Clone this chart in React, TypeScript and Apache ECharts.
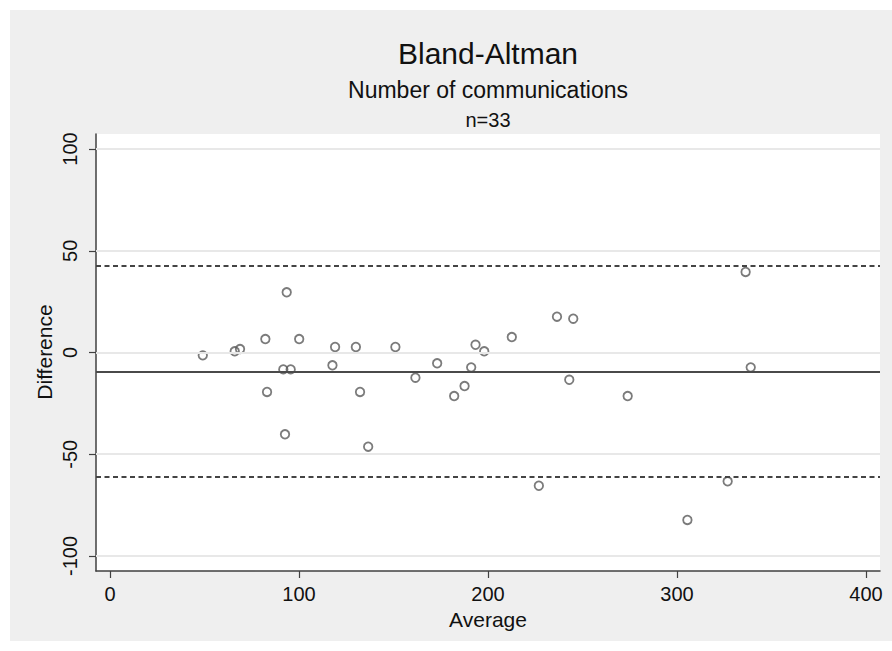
import React, { useEffect, useRef } from "react";
import * as echarts from "echarts";

// Bland-Altman data: average of the two methods vs their difference
const averages = [
  49.1, 66.0, 68.8, 82.2, 83.1, 91.7, 92.6, 93.5, 95.6, 100.1, 117.7, 119.1,
  130.1, 132.3, 136.6, 151.0, 161.6, 173.1, 182.1, 187.6, 191.1, 193.4, 198.0,
  212.6, 226.9, 236.5, 243.0, 245.1, 273.9, 305.5, 326.8, 336.3, 339.0,
];
const differences = [
  -1.4, 0.6, 1.7, 6.6, -19.4, -8.3, -40.2, 29.6, -8.3, 6.6, -6.3, 2.7,
  2.7, -19.4, -46.3, 2.7, -12.4, -5.3, -21.4, -16.5, -7.3, 3.8, 0.6,
  7.6, -65.5, 17.6, -13.4, 16.6, -21.4, -82.3, -63.3, 39.6, -7.3,
];
const meanDifference = -9.4;
const upperLimit = 42.7;
const lowerLimit = -61.3;
const xTicks = [0, 100, 200, 300, 400];
const yTicks = [-100, -50, 0, 50, 100];

const titleText = "Bland-Altman";
const subtitleText = "Number of communications";
const noteText = "n=33";
const xTitle = "Average";
const yTitle = "Difference";

export default function App() {
  const ref = useRef<HTMLDivElement>(null);

  useEffect(() => {
    if (!ref.current) return;
    const chart = echarts.init(ref.current, null, { renderer: "svg" });
    const font = '"Liberation Sans", Arial, Helvetica, sans-serif';
    const axisColor = "#404040";
    const textColor = "#111111";
    const points = averages.map((a, i) => [a, differences[i]]);

    chart.setOption({
      animation: false,
      backgroundColor: "#ffffff",
      textStyle: { fontFamily: font },
      grid: {
        left: 96,
        right: 12,
        top: 134,
        bottom: 80,
        show: true,
        backgroundColor: "#ffffff",
        borderWidth: 0,
        containLabel: false,
      },
      xAxis: {
        type: "value",
        min: -7.4,
        max: 407.4,
        axisLine: { show: true, onZero: false, lineStyle: { color: axisColor, width: 1.5 } },
        axisTick: {
          show: true,
          customValues: xTicks,
          length: 7,
          inside: false,
          lineStyle: { color: axisColor, width: 1.2 },
        },
        axisLabel: {
          customValues: xTicks,
          margin: 13,
          fontSize: 20,
          color: textColor,
          fontFamily: font,
        },
        splitLine: { show: false },
      },
      yAxis: {
        type: "value",
        min: -107.4,
        max: 107.4,
        axisLine: { show: true, onZero: false, lineStyle: { color: axisColor, width: 1.5 } },
        axisTick: {
          show: true,
          customValues: yTicks,
          length: 7,
          inside: false,
          lineStyle: { color: axisColor, width: 1.2 },
        },
        axisLabel: {
          customValues: yTicks,
          margin: 16,
          rotate: 90,
          fontSize: 20,
          color: textColor,
          fontFamily: font,
        },
        splitLine: { show: false },
      },
      series: [
        {
          type: "scatter",
          data: [],
          z: 1,
          silent: true,
          markLine: {
            silent: true,
            symbol: ["none", "none"],
            label: { show: false },
            lineStyle: { color: "#e8e8e8", width: 2.2, type: "solid" },
            data: yTicks.map((v) => ({ yAxis: v })),
          },
        },
        {
          type: "scatter",
          data: [],
          z: 2,
          silent: true,
          markLine: {
            silent: true,
            symbol: ["none", "none"],
            label: { show: false },
            data: [
              { yAxis: meanDifference, lineStyle: { color: "#4a4a4a", width: 2, type: "solid" } },
              { yAxis: upperLimit, lineStyle: { color: "#444444", width: 1.8, type: [5, 3.5] } },
              { yAxis: lowerLimit, lineStyle: { color: "#444444", width: 1.8, type: [5, 3.5] } },
            ],
          },
        },
        {
          type: "scatter",
          data: points,
          z: 3,
          symbol: "circle",
          symbolSize: 8.5,
          itemStyle: { color: "rgba(0,0,0,0)", borderColor: "#5a5a5a", borderWidth: 1.8 },
        },
      ],
      graphic: [
        {
          type: "rect",
          z: -100,
          silent: true,
          shape: { x: 10, y: 10, width: 882, height: 631 },
          style: { fill: "#efefef" },
        },
        {
          type: "text",
          z: 100,
          x: 488,
          y: 53,
          style: {
            text: titleText,
            fill: textColor,
            font: `30px ${font}`,
            textAlign: "center",
            textVerticalAlign: "middle",
          },
        },
        {
          type: "text",
          z: 100,
          x: 488,
          y: 90,
          style: {
            text: subtitleText,
            fill: textColor,
            font: `23px ${font}`,
            textAlign: "center",
            textVerticalAlign: "middle",
          },
        },
        {
          type: "text",
          z: 100,
          x: 488,
          y: 120,
          style: {
            text: noteText,
            fill: textColor,
            font: `20px ${font}`,
            textAlign: "center",
            textVerticalAlign: "middle",
          },
        },
        {
          type: "text",
          z: 100,
          x: 488,
          y: 619,
          style: {
            text: xTitle,
            fill: textColor,
            font: `21px ${font}`,
            textAlign: "center",
            textVerticalAlign: "middle",
          },
        },
        {
          type: "text",
          z: 100,
          x: 44,
          y: 352,
          rotation: Math.PI / 2,
          style: {
            text: yTitle,
            fill: textColor,
            font: `21px ${font}`,
            textAlign: "center",
            textVerticalAlign: "middle",
          },
        },
      ],
    });

    return () => {
      chart.dispose();
    };
  }, []);

  return (
    <div
      ref={ref}
      style={{ position: "absolute", left: 0, top: 0, width: 892, height: 651 }}
    />
  );
}
